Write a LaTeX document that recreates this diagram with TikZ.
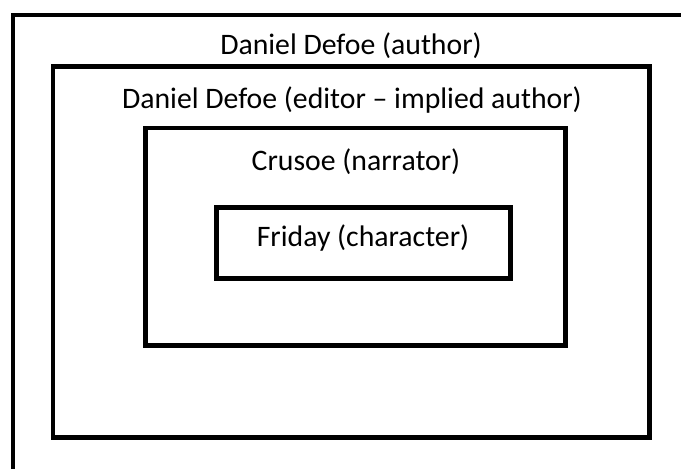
\documentclass[tikz,border=0pt]{standalone}
\usepackage{fontspec}
\setmainfont{Carlito}
\begin{document}
\begin{tikzpicture}
    \clip (0.0, 0.0) rectangle (18.018, 12.409);
    \draw[black,line width=0.119cm] (0.344, -0.5) rectangle (18.6, 12.012);
    \draw[black,line width=0.119cm] (1.402, 0.833) rectangle (17.184, 10.649);
    \draw[black,line width=0.119cm] (3.850, 3.268) rectangle (14.962, 9.022);
    \draw[black,line width=0.119cm] (5.728, 5.040) rectangle (13.507, 6.919);
    \node[inner sep=0pt,font=\fontsize{22.4}{27}\selectfont] (lauthor) at (9.287, 11.191){Daniel Defoe (author)};
    \node[inner sep=0pt,font=\fontsize{22.4}{27}\selectfont] (leditor) at (9.313, 9.763){Daniel Defoe (editor – implied author)};
    \node[inner sep=0pt,font=\fontsize{22.4}{27}\selectfont] (lnarrator) at (9.419, 8.123){Crusoe (narrator)};
    \node[inner sep=0pt,font=\fontsize{22.4}{27}\selectfont] (lcharacter) at (9.604, 6.112){Friday (character)};
  \end{tikzpicture}
\end{document}
